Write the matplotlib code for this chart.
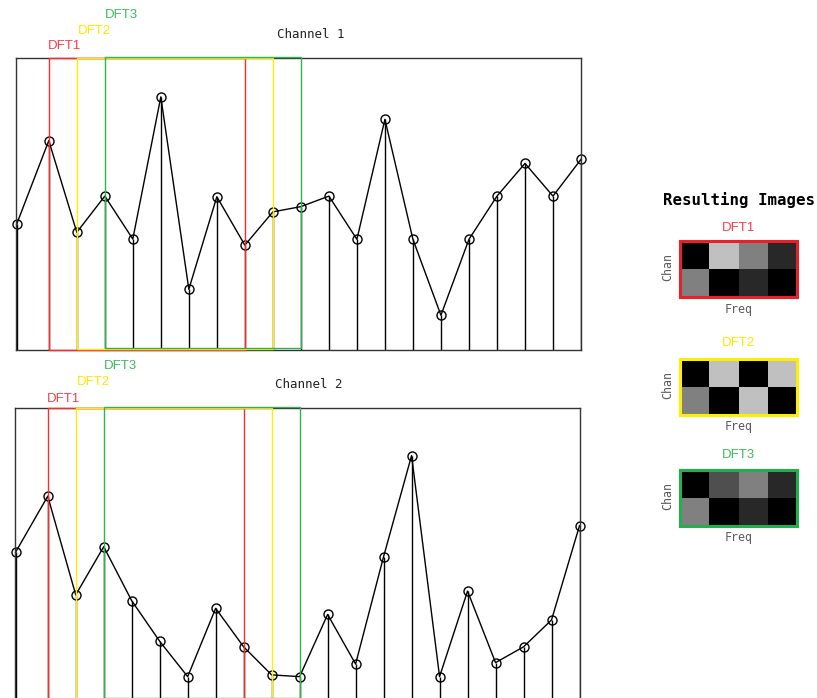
import numpy as np
import matplotlib
matplotlib.use('Agg')
import matplotlib.pyplot as plt
from matplotlib.patches import Rectangle

W, H = 817, 698

# sampled signal of the two channels
chan1 = [4.30, 7.17, 4.03, 5.27, 3.80, 8.67, 2.08, 5.25, 3.59, 4.73, 4.91,
         5.27, 3.79, 7.90, 3.79, 1.19, 3.79, 5.27, 6.39, 5.27, 6.53]
chan2 = [5.06, 6.98, 3.60, 5.25, 3.40, 2.01, 0.80, 3.14, 1.82, 0.86, 0.80,
         2.93, 1.23, 4.91, 8.37, 0.80, 3.73, 1.28, 1.82, 2.74, 5.97]

# sample times; the first sample sits right on the left border
XMIN = -0.17
samples = np.arange(21, dtype=float)
samples[0] = -0.15

# sliding DFT windows (start sample, length in samples)
win_names = ['DFT1', 'DFT2', 'DFT3']
win_start = [1, 2, 3]
win_len = 7

# resulting images: rows = channel, cols = frequency bin
dft1_img = [[0.0, 0.75, 0.50, 0.16], [0.50, 0.0, 0.16, 0.0]]
dft2_img = [[0.0, 0.75, 0.0, 0.75], [0.50, 0.0, 0.75, 0.0]]
dft3_img = [[0.0, 0.31, 0.50, 0.16], [0.50, 0.0, 0.16, 0.0]]

win_colors = ['#ff2a2a', '#ffee00', '#2fb350']
label_colors = ['#ff3b4a', '#ffe600', '#3dbb5e']
box_colors = ['#e8202a', '#ffee00', '#22b04a']

fig = plt.figure(figsize=(W / 100, H / 100), dpi=100)


def fbox(left, top, right, bottom):
    # pixel box -> figure fraction rect
    return [left / W, 1 - bottom / H, (right - left) / W, (bottom - top) / H]


def ftext(x, y, s, **kw):
    return fig.text(x / W, 1 - y / H, s, **kw)


def draw_channel(box, values, title, title_xy, label_left, label_y):
    ax = fig.add_axes(fbox(*box))
    ax.vlines(samples, 0, values, color='black', lw=1, zorder=2)
    ax.plot(samples, values, color='black', lw=1, marker='o', ms=6.5,
            mfc='none', mec='black', mew=1, clip_on=False, zorder=2.2)
    lows = [0.0, 0.03, 0.08]
    highs = [10.0, 10.0, 10.05]
    for i, s in enumerate(win_start):
        ax.add_patch(Rectangle((s, lows[i]), win_len, highs[i] - lows[i],
                               fill=False, ec=win_colors[i], lw=1,
                               clip_on=False, zorder=3))
        ftext(label_left[i], label_y[i], win_names[i], color=label_colors[i],
              fontsize=9.5, family='Liberation Sans', va='center', ha='left')
    ax.set_xlim(XMIN, 20)
    ax.set_ylim(0, 10)
    ax.set_xticks([])
    ax.set_yticks([])
    for sp in ax.spines.values():
        sp.set_color('#333333')
        sp.set_linewidth(1)
    ftext(title_xy[0], title_xy[1], title, fontsize=9, family='DejaVu Sans Mono',
          color='#222222', ha='center', va='center')
    return ax


draw_channel((16, 58, 581, 350), chan1, 'Channel 1', (311, 34.5),
             [48, 78, 105], [46.2, 30.5, 15.3])
draw_channel((15, 408, 579.5, 700), chan2, 'Channel 2', (309, 384),
             [47, 77, 104], [398.7, 382, 366])

# right-hand panel with the DFT magnitude images
ftext(739, 199.5, 'Resulting Images', fontsize=11.3, family='DejaVu Sans Mono',
      weight='bold', ha='center', va='center', color='black')

imgs = [dft1_img, dft2_img, dft3_img]
img_tops = [241.3, 358.6, 469.6]
name_y = [227.7, 343, 454.7]
for i, img in enumerate(imgs):
    top = img_tops[i]
    ax = fig.add_axes(fbox(679.5, top, 797, top + 56))
    ax.imshow(img, cmap='gray', vmin=0, vmax=1, aspect='auto',
              interpolation='nearest')
    ax.set_xticks([])
    ax.set_yticks([])
    for sp in ax.spines.values():
        sp.set_color(box_colors[i])
        sp.set_linewidth(2.2)
    ftext(738.5, name_y[i], win_names[i], color=label_colors[i], fontsize=9.5,
          family='Liberation Sans', ha='center', va='center')
    ftext(667.5, top + 26, 'Chan', rotation=90, fontsize=8.4,
          family='DejaVu Sans Mono', color='#5a5a5a', ha='center', va='center')
    ftext(738.5, top + 68, 'Freq', fontsize=8.4, family='DejaVu Sans Mono',
          color='#5a5a5a', ha='center', va='center')

fig.savefig('out.png', dpi=100)
